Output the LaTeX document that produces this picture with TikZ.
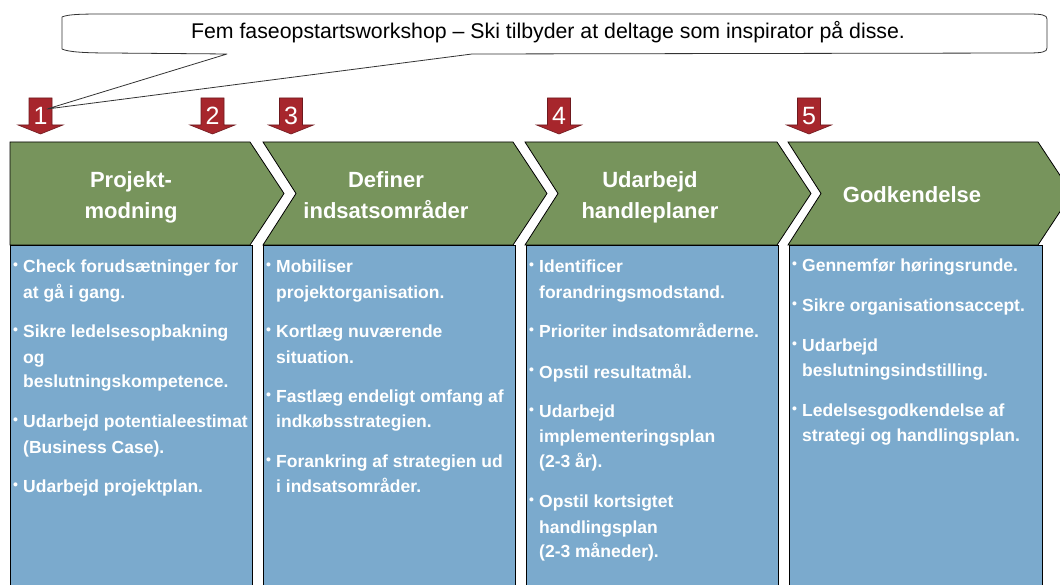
\documentclass[tikz,border=0pt]{standalone}
\usepackage{fontspec}
\setmainfont{Liberation Sans}
\definecolor{chevgreen}{RGB}{119,148,92}
\definecolor{boxblue}{RGB}{123,170,205}
\definecolor{arrowred}{RGB}{167,38,44}
\definecolor{arrowedge}{RGB}{110,25,30}
\newcommand\bxt[1]{\vtop{\hsize=260pt\parindent=0pt\parskip=0pt\raggedright\leftskip=10pt\fontsize{17.5}{25}\selectfont\bfseries #1}}
\newcommand\itm[1]{\par\noindent\llap{\hbox to 10pt{\raisebox{3.5pt}{\fontsize{14}{14}\selectfont •}\hss}}#1\par}
\newcommand\gap{\vskip15pt}
\newcommand\ttl[1]{\vtop{\hsize=240pt\parindent=0pt\centering\fontsize{22}{31}\selectfont\bfseries #1\par}}
\tikzset{
  chev/.style={fill=chevgreen,draw=black,line width=0.8pt,line join=miter},
  bluebox/.style={fill=boxblue,draw=black,line width=0.8pt},
  ttlnode/.style={inner sep=0pt,anchor=base,text=white},
  itemnode/.style={inner sep=0pt,anchor=base west,text=white},
  redarrow/.style={fill=arrowred,draw=arrowedge,line width=0.6pt},
  numnode/.style={inner sep=0pt,anchor=base,text=white,font=\fontsize{25}{25}\selectfont},
  callout/.style={fill=white,draw=black!80,line width=0.8pt,line join=round}
}
\begin{document}
\begin{tikzpicture}[x=1pt,y=-1pt]
\useasboundingbox (0,0) rectangle (1060,585);
\clip (0,0) rectangle (1060,585);
% blue boxes
\draw[bluebox] (10,245) rectangle (252,592);
\draw[bluebox] (263,245) rectangle (515,592);
\draw[bluebox] (526,245) rectangle (778,592);
\draw[bluebox] (789,245) rectangle (1042,592);
% chevrons
\draw[chev] (10,142) -- (250,142) -- (284,193.5) -- (250,245) -- (10,245) -- cycle;
\draw[chev] (263,142) -- (513,142) -- (547,193.5) -- (513,245) -- (263,245) -- (296,193.5) -- cycle;
\draw[chev] (525,142) -- (777,142) -- (811,193.5) -- (777,245) -- (525,245) -- (558,193.5) -- cycle;
\draw[chev] (788,142) -- (1038,142) -- (1072,193.5) -- (1038,245) -- (788,245) -- (821,193.5) -- cycle;
% titles
\node[ttlnode] (t1) at (131,188) {\ttl{Projekt-\\modning}};
\node[ttlnode] (t2) at (386,188) {\ttl{Definer\\indsatsområder}};
\node[ttlnode] (t3) at (650,188) {\ttl{Udarbejd\\handleplaner}};
\node[ttlnode] (t4) at (912,203) {\ttl{Godkendelse}};
% box texts
\node[itemnode] (b1) at (13,273) {\bxt{%
\itm{Check forudsætninger for\\at gå i gang.}\gap
\itm{Sikre ledelsesopbakning\\og\\beslutningskompetence.}\gap
\itm{Udarbejd potentialeestimat\\(Business Case).}\gap
\itm{Udarbejd projektplan.}}};
\node[itemnode] (b2) at (266,273) {\bxt{%
\itm{Mobiliser\\projektorganisation.}\gap
\itm{Kortlæg nuværende\\situation.}\gap
\itm{Fastlæg endeligt omfang af\\indkøbsstrategien.}\gap
\itm{Forankring af strategien ud\\i indsatsområder.}}};
\node[itemnode] (b3) at (529,273) {\bxt{%
\itm{Identificer\\forandringsmodstand.}\gap
\itm{Prioriter indsatområderne.}\gap
\itm{Opstil resultatmål.}\gap
\itm{Udarbejd\\implementeringsplan\\(2-3 år).}\gap
\itm{Opstil kortsigtet\\handlingsplan\\(2-3 måneder).}}};
\node[itemnode] (b4) at (792,272) {\bxt{%
\itm{Gennemfør høringsrunde.}\gap
\itm{Sikre organisationsaccept.}\gap
\itm{Udarbejd\\beslutningsindstilling.}\gap
\itm{Ledelsesgodkendelse af\\strategi og handlingsplan.}}};
% red arrows with numbers
\foreach \n/\cx in {1/40.5,2/212.5,3/291,4/559,5/809}{
  \draw[redarrow] ({\cx-11.5},98) -- ({\cx+11.5},98) -- ({\cx+11.5},125) -- ({\cx+22.5},125)
     -- (\cx,134) -- ({\cx-22.5},125) -- ({\cx-11.5},125) -- cycle;
  \node[numnode] (n\n) at (\cx,124.5) {\n};
}
% callout
\coordinate (tip) at (47,109);
\draw[callout] (62,17) .. controls (68,14) and (85,14) .. (110,14) -- (1028,14)
  .. controls (1042,14) and (1047,15) .. (1047,19) -- (1047,48)
  .. controls (1047,52) and (1042,53) .. (1028,53) -- (472,54) -- (tip) -- (227,54)
  -- (110,53) .. controls (85,53) and (68,52) .. (62,49) -- cycle;
\node[inner sep=0pt,anchor=base,font=\fontsize{21.3}{21.3}\selectfont] (ct) at (548,39)
  {Fem faseopstartsworkshop – Ski tilbyder at deltage som inspirator på disse.};
\end{tikzpicture}
\end{document}
